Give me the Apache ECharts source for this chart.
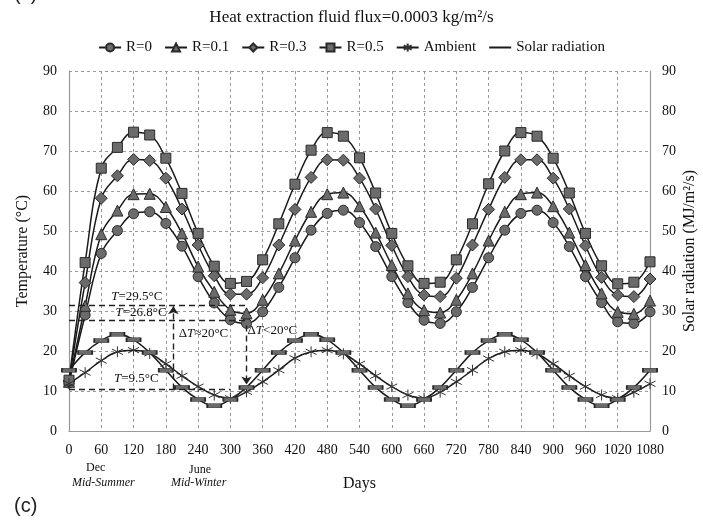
<!DOCTYPE html>
<html>
<head>
<meta charset="utf-8">
<script src="https://cdn.jsdelivr.net/npm/echarts@6/dist/echarts.min.js"></script>
<style>
  html, body { margin: 0; padding: 0; background: #fff; }
  #chart { width: 703px; height: 522px; }
</style>
</head>
<body>
<div id="chart"></div>
<script>
// days (x axis), one point every 30 days
const days = [0, 30, 60, 90, 120, 150, 180, 210, 240, 270, 300, 330, 360, 390, 420, 450, 480, 510,
  540, 570, 600, 630, 660, 690, 720, 750, 780, 810, 840, 870, 900, 930, 960, 990, 1020, 1050, 1080];

// temperatures (°C)
const r0 = [12.0, 29.0, 44.4, 50.1, 54.3, 54.8, 51.9, 46.2, 38.6, 32.0, 27.8, 26.9, 29.8,
  35.9, 43.3, 50.2, 54.4, 55.2, 52.1, 46.1, 38.6, 32.1, 27.7, 26.9, 29.8,
  35.9, 43.3, 50.2, 54.4, 55.2, 52.1, 46.1, 38.6, 32.1, 27.3, 26.9, 29.8];
const r01 = [12.3, 31.3, 49.2, 55.1, 59.2, 59.3, 56.0, 49.4, 41.1, 34.8, 30.3, 29.4, 32.8,
  39.4, 47.6, 54.8, 59.2, 59.6, 56.2, 49.6, 41.5, 34.4, 30.2, 29.6, 32.8,
  39.4, 47.6, 54.8, 59.2, 59.6, 56.2, 49.6, 41.5, 34.4, 29.8, 29.3, 32.6];
const r03 = [12.5, 37.1, 58.2, 63.8, 67.9, 67.6, 63.2, 55.5, 46.5, 38.8, 34.2, 34.2, 38.3,
  46.5, 55.4, 63.4, 67.8, 67.7, 63.2, 55.5, 46.4, 38.6, 34.0, 33.6, 38.2,
  46.5, 55.4, 63.4, 67.8, 67.8, 63.2, 55.5, 46.3, 38.4, 34.0, 33.6, 38.0];
const r05 = [12.7, 42.1, 65.7, 70.9, 74.7, 74.0, 68.2, 59.4, 49.4, 41.2, 36.9, 37.4, 42.8,
  51.8, 61.7, 70.2, 74.6, 73.7, 68.3, 59.5, 49.4, 41.3, 36.9, 37.2, 42.8,
  51.8, 61.8, 70.0, 74.6, 73.7, 68.2, 59.5, 49.4, 41.3, 36.8, 37.2, 42.3];
const ambient = [11.9, 14.6, 17.6, 19.8, 20.2, 19.4, 16.8, 13.8, 11.1, 9.0, 8.2, 9.8, 12.3,
  15.2, 18.2, 19.8, 20.2, 19.3, 16.8, 13.8, 11.1, 9.0, 8.2, 9.7, 12.3,
  15.2, 18.1, 19.8, 20.2, 19.3, 16.8, 13.8, 11.1, 9.0, 8.2, 9.7, 11.8];
// solar radiation (MJ/m2/s), right axis
const solar = [15.2, 19.6, 22.6, 24.2, 22.8, 19.6, 15.2, 10.9, 7.9, 6.3, 7.9, 10.9, 15.2,
  19.6, 22.6, 24.2, 22.8, 19.6, 15.2, 10.9, 7.9, 6.3, 7.9, 10.9, 15.2,
  19.6, 22.6, 24.2, 22.8, 19.6, 15.2, 10.9, 7.9, 6.3, 7.9, 10.9, 15.2];

const seriesNames = ["R=0", "R=0.1", "R=0.3", "R=0.5", "Ambient", "Solar radiation"];
const yTicks = [0, 90, 10];   // min, max, step
const xTicks = [0, 1080, 60];

const serif = "'Liberation Serif', 'Times New Roman', serif";
const asterisk = "path://M0,-10L0,10M-8.66,-5L8.66,5M-8.66,5L8.66,-5";

function pairs(vals) {
  return days.map((d, i) => [d, vals[i]]);
}

function lineSeries(name, vals, symbol, size, extra) {
  return Object.assign({
    name: name,
    type: "line",
    data: pairs(vals),
    smooth: 0.4,
    symbol: symbol,
    symbolSize: size,
    showAllSymbol: true,
    lineStyle: { color: "#1a1a1a", width: 1.5 },
    itemStyle: { color: "#6b6b6b", borderColor: "#2a2a2a", borderWidth: 1 },
    emphasis: { disabled: true },
  }, extra || {});
}

const dashLine = { type: [6, 4], color: "#222", width: 1.4 };
const italicT = { fontStyle: "italic", fontFamily: serif, fontSize: 13, color: "#111" };
const plainLabel = (v) => String(v);

// legend: the solar radiation entry is shown as a plain line
const legendData = seriesNames.map((n) =>
  n === "Solar radiation" ? { name: n, itemStyle: { opacity: 0 } } : n
);

const chartDom = echarts.init(document.getElementById("chart"));
chartDom.setOption({
  animation: false,
  title: {
    text: "Heat extraction fluid flux=0.0003 kg/m²/s",
    left: "center",
    top: 4,
    textStyle: { fontFamily: serif, fontSize: 17, fontWeight: "normal", color: "#111" },
  },
  legend: {
    data: legendData,
    top: 35,
    left: "center",
    itemWidth: 22,
    itemHeight: 10,
    itemGap: 12,
    textStyle: { fontFamily: serif, fontSize: 15, color: "#111" },
  },
  grid: { left: 69, right: 53, top: 71, bottom: 91, containLabel: false, outerBoundsMode: "none" },
  xAxis: {
    type: "value",
    min: xTicks[0],
    max: xTicks[1],
    interval: xTicks[2],
    name: "Days",
    nameLocation: "middle",
    nameGap: 45,
    nameMoveOverlap: false,
    nameTextStyle: { fontFamily: serif, fontSize: 16, color: "#111" },
    axisLine: { lineStyle: { color: "#999", width: 1.2 } },
    axisTick: { show: false },
    axisLabel: { fontFamily: serif, fontSize: 14, color: "#111", margin: 12, formatter: plainLabel },
    splitLine: { show: true, lineStyle: { type: [3, 3], color: "#9a9a9a", width: 1 } },
  },
  yAxis: [
    {
      type: "value",
      min: yTicks[0],
      max: yTicks[1],
      interval: yTicks[2],
      name: "Temperature (°C)",
      nameLocation: "middle",
      nameGap: 38,
      nameMoveOverlap: false,
      nameTextStyle: { fontFamily: serif, fontSize: 16, color: "#111" },
      axisLine: { show: true, lineStyle: { color: "#999", width: 1.2 } },
      axisTick: { show: false },
      axisLabel: { fontFamily: serif, fontSize: 14, color: "#111", margin: 12, formatter: plainLabel },
      splitLine: { show: true, lineStyle: { type: [3, 3], color: "#9a9a9a", width: 1 } },
    },
    {
      type: "value",
      min: yTicks[0],
      max: yTicks[1],
      interval: yTicks[2],
      position: "right",
      name: "Solar radiation (MJ/m²/s)",
      nameLocation: "middle",
      nameGap: 32,
      nameRotate: 90,
      nameMoveOverlap: false,
      nameTextStyle: { fontFamily: serif, fontSize: 16, color: "#111" },
      axisLine: { show: true, lineStyle: { color: "#999", width: 1.2 } },
      axisTick: { show: false },
      axisLabel: { fontFamily: serif, fontSize: 14, color: "#111", margin: 12, formatter: plainLabel },
      splitLine: { show: false },
    },
  ],
  series: [
    lineSeries("R=0", r0, "circle", 10, {
      markLine: {
        silent: true,
        symbol: "none",
        lineStyle: dashLine,
        label: { show: false },
        data: [
          [{ coord: [0, 31.4] }, { coord: [330, 31.4] }],
          [{ coord: [0, 27.6] }, { coord: [330, 27.6] }],
          [{ coord: [0, 10.4] }, { coord: [300, 10.4] }],
          [{ coord: [194, 10.4], symbol: "none" }, { coord: [194, 31.2], symbol: "arrow", symbolSize: 8 }],
          [{ coord: [330, 26.4], symbol: "none" }, { coord: [330, 11.6], symbol: "arrow", symbolSize: 8 }],
        ],
      },
      markPoint: {
        silent: true,
        symbol: "rect",
        symbolSize: 0,
        label: {
          show: true,
          position: "inside",
          fontFamily: serif,
          fontSize: 13,
          color: "#111",
          rich: { i: italicT },
        },
        data: [
          { coord: [126, 33.6], label: { formatter: "{i|T}=29.5°C" } },
          { coord: [134, 29.6], label: { formatter: "{i|T}=26.8°C" } },
          { coord: [125, 13.2], label: { formatter: "{i|T}=9.5°C" } },
          { coord: [250, 24.4], label: { formatter: "Δ{i|T}≈20°C" } },
          { coord: [378, 25.0], label: { formatter: "Δ{i|T}<20°C" } },
        ],
      },
    }),
    lineSeries("R=0.1", r01, "triangle", 11),
    lineSeries("R=0.3", r03, "diamond", 12),
    lineSeries("R=0.5", r05, "rect", 10),
    lineSeries("Ambient", ambient, asterisk, 11, {
      itemStyle: { color: "none", borderColor: "#333", borderWidth: 1 },
    }),
    lineSeries("Solar radiation", solar, "rect", [14, 4], { yAxisIndex: 1 }),
  ],
  graphic: [
    { type: "text", left: 86, top: 462, style: { text: "Dec", font: "12px " + serif, fill: "#111" } },
    { type: "text", left: 72, top: 477, style: { text: "Mid-Summer", font: "italic 12px " + serif, fill: "#111" } },
    { type: "text", left: 189, top: 464, style: { text: "June", font: "12px " + serif, fill: "#111" } },
    { type: "text", left: 171, top: 477, style: { text: "Mid-Winter", font: "italic 12px " + serif, fill: "#111" } },
    { type: "text", left: 14, top: 496, style: { text: "(c)", font: "20px 'Liberation Sans', Arial, sans-serif", fill: "#222" } },
    { type: "text", left: 14, top: -16, style: { text: "(c)", font: "20px 'Liberation Sans', Arial, sans-serif", fill: "#222" } },
  ],
});
window.addEventListener("resize", () => {
  chartDom.resize();
});
</script>
</body>
</html>
